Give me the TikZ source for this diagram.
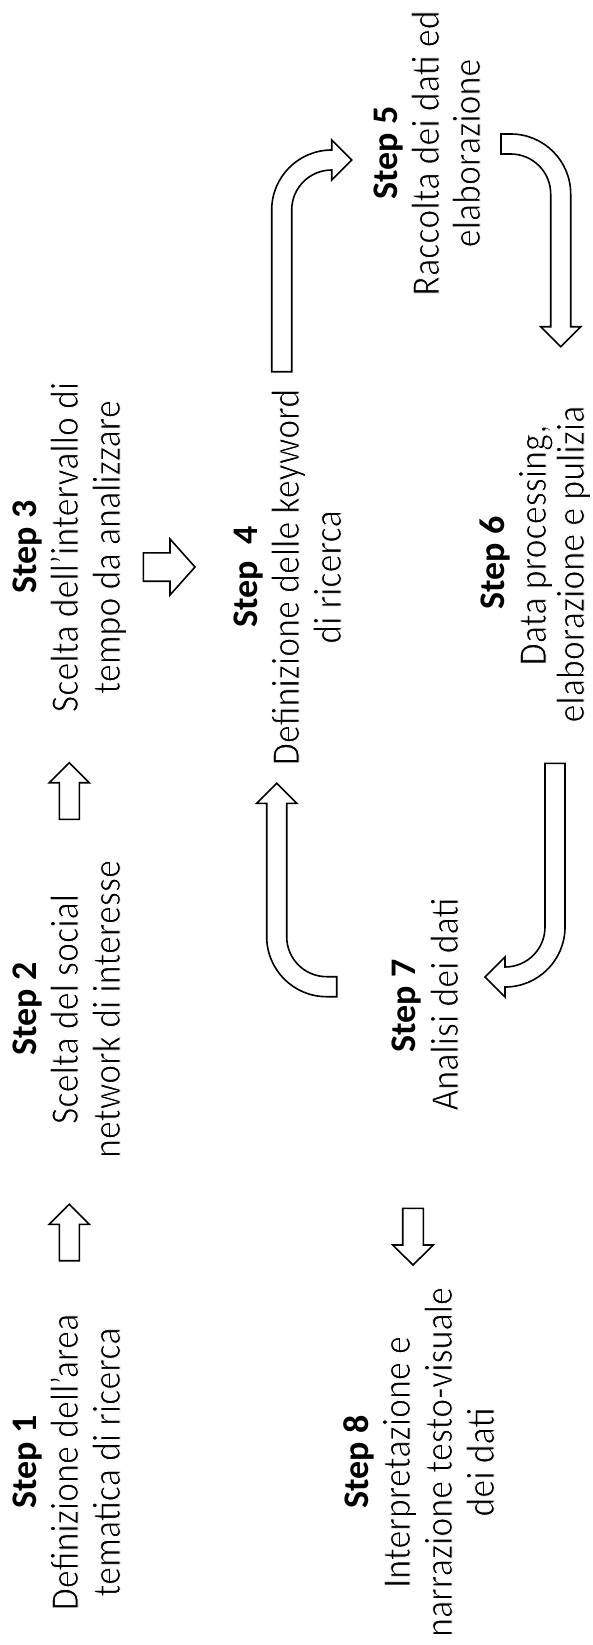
\documentclass[tikz,border=0pt]{standalone}
\usepackage{fontspec}
\setmainfont{Carlito}
\newfontfamily\bodyfont[FakeStretch=0.9]{Carlito}
% thin strokes: fill the glyphs, then trim their outline with a white stroke
\newcommand\thin[1]{\special{pdf:literal direct 1 1 1 RG 0.8 w 2 Tr}#1\special{pdf:literal direct 0 Tr 0 0 0 RG}}
\begin{document}
\begin{tikzpicture}[x=1pt,y=1pt,
  arrowline/.style={draw=black,line width=1.6pt,fill=white,line join=miter},
  txt/.style={rotate=90,anchor=base,inner sep=0pt,font=\bodyfont\fontsize{40pt}{42pt}\selectfont},
  steptxt/.style={rotate=90,anchor=base,inner sep=0pt,font=\fontsize{36pt}{42pt}\selectfont\bfseries},
  pics/blockarrow/.style n args={4}{code={
    \draw[arrowline] (0,0) -- (-#3,#2) -- (-#3,#1) -- (-#4,#1) -- (-#4,-#1)
      -- (-#3,-#1) -- (-#3,-#2) -- cycle;}}]
\useasboundingbox (0,0) rectangle (592,-1645);

% Step 1
\node[steptxt] (s1)  at (36,-1462)  {Step 1};
\node[txt]     (s1a) at (78,-1462)  {\thin{Definizione dell’area}};
\node[txt]     (s1b) at (120,-1462) {\thin{tematica di ricerca}};
% Step 2
\node[steptxt] (s2)  at (36,-1009)  {Step 2};
\node[txt]     (s2a) at (78,-1009)  {\thin{Scelta del social}};
\node[txt]     (s2b) at (120,-1009) {\thin{network di interesse}};
% Step 3
\node[steptxt] (s3)  at (36,-547)  {Step 3};
\node[txt]     (s3a) at (78,-547)  {\thin{Scelta dell’intervallo di}};
\node[txt]     (s3b) at (120,-547) {\thin{tempo da analizzare}};
% Step 4
\node[steptxt] (s4)  at (257,-577) {Step~\ 4};
\node[txt]     (s4a) at (299,-577) {\thin{Definizione delle keyword}};
\node[txt]     (s4b) at (341,-577) {\thin{di ricerca}};
% Step 5
\node[steptxt] (s5)  at (397,-153) {Step 5};
\node[txt]     (s5a) at (439,-153) {\thin{Raccolta dei dati ed}};
\node[txt]     (s5b) at (480,-153) {\thin{elaborazione}};
% Step 6
\node[steptxt] (s6)  at (504,-563) {Step 6};
\node[txt]     (s6a) at (546,-545) {\thin{Data processing,}};
\node[txt]     (s6b) at (584,-564) {\thin{elaborazione e pulizia}};
% Step 7
\node[steptxt] (s7)  at (415,-1006) {Step 7};
\node[txt]     (s7a) at (458,-1004) {\thin{Analisi dei dati}};
% Step 8
\node[steptxt] (s8)  at (368,-1462) {Step 8};
\node[txt]     (s8a) at (410,-1462) {\thin{Interpretazione e}};
\node[txt]     (s8b) at (452,-1462) {\thin{narrazione testo-visuale}};
\node[txt]     (s8c) at (494,-1462) {\thin{dei dati}};

% straight block arrows (tips)
\coordinate (t12) at (69.3,-1204.3);
\coordinate (t23) at (69.3,-762.7);
\coordinate (t34) at (195,-567);
\coordinate (t78) at (413,-1265);
\pic[rotate=90]  at (t12) {blockarrow={10}{20}{20}{56.4}};
\pic[rotate=90]  at (t23) {blockarrow={10}{20}{20}{56.6}};
\pic             at (t34) {blockarrow={14.2}{28}{25}{51.7}};
\pic[rotate=-90] at (t78) {blockarrow={10.3}{20.3}{20}{56.7}};

% bent arrow: Step 4 -> Step 5
\draw[arrowline] (291.7,-371.7) -- (291.7,-210)
  arc[start angle=180,end angle=90,radius=40pt]
  -- (331.7,-180) -- (351.7,-160) -- (331.7,-140) -- (331.7,-150)
  arc[start angle=90,end angle=180,radius=60pt]
  -- (271.7,-371.7) -- cycle;

% bent arrow: Step 5 -> Step 6
\draw[arrowline] (501,-134) -- (510.7,-134)
  arc[start angle=90,end angle=0,radius=60pt]
  -- (570.7,-326.7) -- (580.7,-326.7) -- (560.7,-346.7) -- (540.7,-326.7) -- (550.7,-326.7)
  -- (550.7,-194)
  arc[start angle=0,end angle=90,radius=40pt]
  -- (501,-154) -- cycle;

% bent arrow: Step 6 -> Step 7
\draw[arrowline] (545,-763.3) -- (565,-763.3) -- (565,-927)
  arc[start angle=0,end angle=-90,radius=60pt]
  -- (505,-997) -- (485,-977) -- (505,-957) -- (505,-967)
  arc[start angle=-90,end angle=0,radius=40pt]
  -- cycle;

% bent arrow: Step 7 -> Step 4
\draw[arrowline] (336.7,-996.7) -- (326.7,-996.7)
  arc[start angle=-90,end angle=-180,radius=60pt]
  -- (266.7,-803.3) -- (256.7,-803.3) -- (276.7,-783.3) -- (296.7,-803.3) -- (286.7,-803.3)
  -- (286.7,-936.7)
  arc[start angle=180,end angle=270,radius=40pt]
  -- (336.7,-976.7) -- cycle;
\end{tikzpicture}
\end{document}
